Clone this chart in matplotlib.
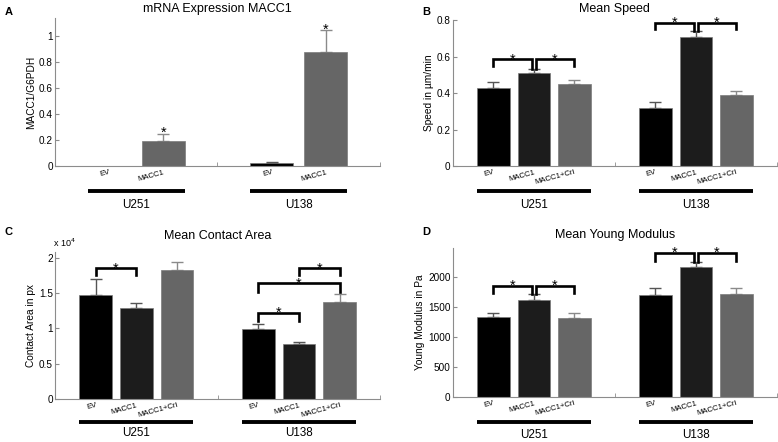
import matplotlib
matplotlib.use('Agg')
import matplotlib.pyplot as plt
from matplotlib.ticker import FuncFormatter
import matplotlib.transforms as mtrans

plt.rcParams['font.family'] = ['Liberation Sans', 'DejaVu Sans']

# panel A: mRNA expression
a_labels = ['EV', 'MACC1']
a_u251 = [0.002, 0.195]
a_u251_err = [0.0, 0.05]
a_u138 = [0.025, 0.875]
a_u138_err = [0.005, 0.165]

# panels B-D share the three conditions
labels3 = ['EV', 'MACC1', 'MACC1+Cri']
groups = ['U251', 'U138']

speed_u251 = [0.43, 0.51, 0.45]
speed_u251_err = [0.03, 0.02, 0.02]
speed_u138 = [0.32, 0.71, 0.39]
speed_u138_err = [0.03, 0.03, 0.02]

area_u251 = [14750, 12860, 18300]
area_u251_err = [2250, 700, 1100]
area_u138 = [9880, 7850, 13700]
area_u138_err = [820, 250, 1200]

young_u251 = [1330, 1610, 1320]
young_u251_err = [70, 110, 80]
young_u138 = [1700, 2160, 1720]
young_u138_err = [120, 80, 100]

bar_colors3 = ['#000000', '#1c1c1c', '#666666']
err_colors3 = ['#555555', '#555555', '#8a8a8a']
AX_GRAY = '#8c8c8c'


def style_axes(ax, xlim, divider):
    for s in ['top', 'right']:
        ax.spines[s].set_visible(False)
    for s in ['left', 'bottom']:
        ax.spines[s].set_color(AX_GRAY)
        ax.spines[s].set_linewidth(0.8)
    ax.set_xlim(*xlim)
    ax.tick_params(axis='y', direction='in', length=3, color=AX_GRAY, labelsize=7.2, pad=1.5)
    ax.tick_params(axis='x', which='major', length=0, labelsize=5.6, pad=2)
    ax.set_xticks([divider, xlim[1]], minor=True)
    ax.tick_params(axis='x', which='minor', direction='in', length=3, color=AX_GRAY)


def draw_group(ax, pos, vals, errs, colors, ecolors):
    for p, v, e, c, ec in zip(pos, vals, errs, colors, ecolors):
        ax.bar(p, v, width=0.8, color=c, edgecolor='#7a7a7a', linewidth=0.5, zorder=2)
        if e > 0:
            ax.errorbar(p, v, yerr=[[0], [e]], fmt='none', ecolor=ec,
                        elinewidth=1.0, capsize=4, capthick=1.0, zorder=1)


def group_lines(ax, positions_list, names, line_y, text_y):
    trans = mtrans.blended_transform_factory(ax.transData, ax.transAxes)
    for pos, name in zip(positions_list, names):
        x0, x1 = pos[0] - 0.4, pos[-1] + 0.4
        ax.plot([x0, x1], [line_y, line_y], color='black', lw=2.8,
                transform=trans, clip_on=False, solid_capstyle='butt')
        ax.text((x0 + x1) / 2, text_y, name, transform=trans, ha='center',
                va='center', fontsize=8.4)


def set_ticklabels(ax, pos, labels):
    ax.set_xticks(pos)
    ax.set_xticklabels(labels, rotation=15, ha='right', va='top',
                       rotation_mode='anchor')


def star(ax, x, y):
    ax.annotate('*', xy=(x, y), xytext=(0, -3.3), textcoords='offset points',
                ha='center', va='baseline', fontsize=10.5)


def bracket(ax, x1, x2, y, low1, low2):
    ax.plot([x1, x1, x2, x2], [low1, y, y, low2], color='black', lw=1.9,
            solid_joinstyle='miter', zorder=3)
    star(ax, (x1 + x2) / 2, y)


fig = plt.figure(figsize=(7.78, 4.42), dpi=100)

# ---- A ----
axA = fig.add_axes([0.0707, 0.6244, 0.4177, 0.335])
posA1, posA2 = [1, 2], [4, 5]
a_colors = ['#000000', '#666666']
a_ecolors = ['#555555', '#8a8a8a']
draw_group(axA, posA1, a_u251, a_u251_err, a_colors, a_ecolors)
draw_group(axA, posA2, a_u138, a_u138_err, a_colors, a_ecolors)
style_axes(axA, (0, 6), 3)
axA.set_ylim(0, 1.135)
axA.set_yticks([0, 0.2, 0.4, 0.6, 0.8, 1])
axA.set_yticklabels(['0', '0.2', '0.4', '0.6', '0.8', '1'])
set_ticklabels(axA, posA1 + posA2, a_labels + a_labels)
axA.set_ylabel('MACC1/G6PDH', fontsize=7.3, labelpad=2)
axA.set_title('mRNA Expression MACC1', fontsize=9, pad=4)
group_lines(axA, [posA1, posA2], groups, -0.17, -0.265)
star(axA, 2, a_u251[1] + a_u251_err[1] + 0.012)
star(axA, 5, a_u138[1] + a_u138_err[1] + 0.012)

# ---- B ----
axB = fig.add_axes([0.582, 0.6244, 0.4165, 0.330])
pos1, pos2 = [1, 2, 3], [5, 6, 7]
draw_group(axB, pos1, speed_u251, speed_u251_err, bar_colors3, err_colors3)
draw_group(axB, pos2, speed_u138, speed_u138_err, bar_colors3, err_colors3)
style_axes(axB, (0, 8), 4)
axB.set_ylim(0, 0.8)
axB.set_yticks([0, 0.2, 0.4, 0.6, 0.8])
axB.set_yticklabels(['0', '0.2', '0.4', '0.6', '0.8'])
set_ticklabels(axB, pos1 + pos2, labels3 + labels3)
axB.set_ylabel('Speed in µm/min', fontsize=7.3, labelpad=2)
axB.set_title('Mean Speed', fontsize=9, pad=6)
group_lines(axB, [pos1, pos2], groups, -0.17, -0.27)
d = 0.05
bracket(axB, 1, 2 - d, 0.587, 0.546, 0.53)
bracket(axB, 2 + d, 3, 0.587, 0.53, 0.546)
bracket(axB, 5, 6 - d, 0.787, 0.75, 0.74)
bracket(axB, 6 + d, 7, 0.787, 0.74, 0.75)

# ---- C ----
axC = fig.add_axes([0.0707, 0.0973, 0.418, 0.3326])
draw_group(axC, pos1, area_u251, area_u251_err, bar_colors3, err_colors3)
draw_group(axC, pos2, area_u138, area_u138_err, bar_colors3, err_colors3)
style_axes(axC, (0, 8), 4)
axC.set_ylim(0, 20850)
axC.set_yticks([0, 5000, 10000, 15000, 20000])
axC.yaxis.set_major_formatter(FuncFormatter(lambda v, p: '%g' % (v / 1e4)))
set_ticklabels(axC, pos1 + pos2, labels3 + labels3)
axC.set_ylabel('Contact Area in px', fontsize=7.3, labelpad=2)
axC.set_title('Mean Contact Area', fontsize=9, pad=9)
axC.text(-0.005, 1.02, r'x 10$^4$', transform=axC.transAxes, fontsize=6.5,
         ha='left', va='bottom')
group_lines(axC, [pos1, pos2], groups, -0.155, -0.23)
bracket(axC, 1, 2, 18550, 17600, 17600)
bracket(axC, 6, 7, 18600, 17600, 17600)
bracket(axC, 5, 7, 16400, 15200, 15200)
bracket(axC, 5, 6, 12250, 11100, 11100)

# ---- D ----
axD = fig.add_axes([0.582, 0.1018, 0.4165, 0.337])
draw_group(axD, pos1, young_u251, young_u251_err, bar_colors3, err_colors3)
draw_group(axD, pos2, young_u138, young_u138_err, bar_colors3, err_colors3)
style_axes(axD, (0, 8), 4)
axD.set_ylim(0, 2480)
axD.set_yticks([0, 500, 1000, 1500, 2000])
set_ticklabels(axD, pos1 + pos2, labels3 + labels3)
axD.set_ylabel('Young Modulus in Pa', fontsize=7.3, labelpad=2)
axD.set_title('Mean Young Modulus', fontsize=9, pad=7)
group_lines(axD, [pos1, pos2], groups, -0.165, -0.255)
bracket(axD, 1, 2 - d, 1855, 1730, 1720)
bracket(axD, 2 + d, 3, 1855, 1720, 1730)
bracket(axD, 5, 6 - d, 2405, 2272, 2240)
bracket(axD, 6 + d, 7, 2405, 2240, 2272)

# panel letters
for txt, x, y in [('A', 0.006, 0.985), ('B', 0.543, 0.985),
                  ('C', 0.006, 0.487), ('D', 0.543, 0.487)]:
    fig.text(x, y, txt, fontsize=8, fontweight='bold', ha='left', va='top')

fig.savefig('out.png', dpi=100)
